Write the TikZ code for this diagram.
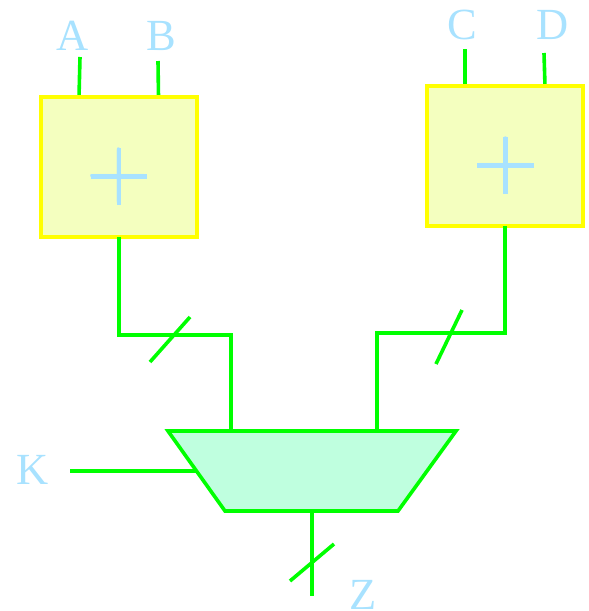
\documentclass[tikz,border=0pt]{standalone}
\usepackage{fontspec}
\newfontfamily\tms{Liberation Serif}
\definecolor{wire}{RGB}{0,255,0}
\definecolor{boxline}{RGB}{255,255,0}
\definecolor{ink}{HTML}{A8E2FF}
\definecolor{addfill}{HTML}{F4FFBF}
\definecolor{muxfill}{HTML}{BFFFDF}
\tikzset{
  wireline/.style={draw=wire,line width=3.6pt},
  adder/.style={draw=boxline,fill=addfill,line width=4pt,minimum width=155.5pt,minimum height=139.5pt,inner sep=0pt,outer sep=0pt},
  plusmark/.style={text=ink,inner sep=0pt,font=\fontsize{90}{90}\selectfont},
  plusstroke/.style={draw=ink,line width=4.5pt},
  lbl/.style={text=ink,font=\tms\fontsize{44.5}{44.5}\selectfont,anchor=base,inner sep=0pt},
  mux/.style={draw=wire,fill=muxfill,line width=3.6pt,line join=miter}
}
\begin{document}
\begin{tikzpicture}[x=1pt,y=-1pt]
\useasboundingbox (0,0) rectangle (589,611);
% labels
\node[lbl] (la) at (72.5,50) {A};
\node[lbl] (lb) at (161.5,50) {B};
\node[lbl] (lc) at (462,39) {C};
\node[lbl] (ld) at (552.5,39) {D};
\node[lbl] (lk) at (33,484) {K};
\node[lbl] (lz) at (363,609.5) {Z};
% free ends
\coordinate (a0) at (80,57);  \coordinate (a1) at (79,97);
\coordinate (b0) at (158,61); \coordinate (b1) at (158.5,97);
\coordinate (c0) at (465,49); \coordinate (c1) at (465,86);
\coordinate (d0) at (544,53); \coordinate (d1) at (545,86);
\coordinate (k0) at (70,471); \coordinate (k1) at (197,471);
\coordinate (z1) at (312,596);
% mux
\coordinate (m1) at (168,431); \coordinate (m2) at (456,431);
\coordinate (m3) at (398,511); \coordinate (m4) at (225,511);
\coordinate (mi1) at (231,431); \coordinate (mi2) at (377,431);
\coordinate (mo) at (312,511);
% wires under the boxes
\draw[wireline] (a0) -- (a1);
\draw[wireline] (b0) -- (b1);
\draw[wireline] (c0) -- (c1);
\draw[wireline] (d0) -- (d1);
\node[adder] (add1) at (119.2,167.2) {};
\node[adder] (add2) at (505.2,156.2) {};
\node[plusmark] (p1) at (119,176.5) {+};
\node[plusmark] (p2) at (505.5,165.5) {+};
\draw[plusstroke] (90.7,176.3) -- (147,176.3) (119,148) -- (119,204.5);
\draw[plusstroke] (477.2,165.3) -- (533.5,165.3) (505.5,137) -- (505.5,193.5);
\draw[wireline] (add1.south) |- (231,335) -- (mi1);
\draw[wireline] (add2.south) |- (377,333) -- (mi2);
\draw[wireline] (k0) -- (k1);
\draw[mux] (m1) -- (m2) -- (m3) -- (m4) -- cycle;
\draw[wireline] (mo) -- (z1);
% bus slashes
\coordinate (s1a) at (150,362); \coordinate (s1b) at (190,317);
\coordinate (s2a) at (436,364); \coordinate (s2b) at (462,310);
\coordinate (s3a) at (290,581); \coordinate (s3b) at (334,544);
\draw[wireline] (s1a) -- (s1b);
\draw[wireline] (s2a) -- (s2b);
\draw[wireline] (s3a) -- (s3b);
\end{tikzpicture}
\end{document}
